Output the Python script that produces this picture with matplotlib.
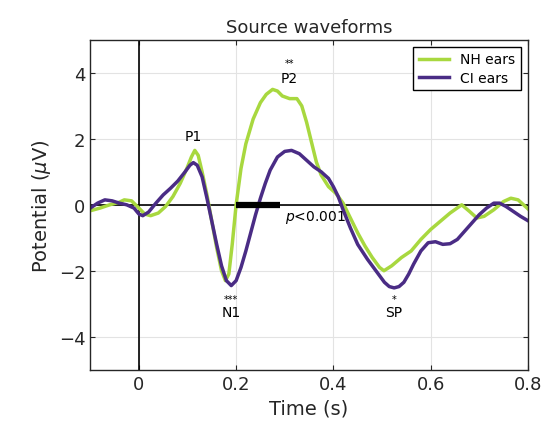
import matplotlib.pyplot as plt

# time points (s) and waveforms (uV)
t_nh = [-0.1, -0.08, -0.06, -0.04, -0.03, -0.015, 0.0, 0.012, 0.024, 0.04, 0.055, 0.07, 0.085,
        0.1, 0.108, 0.115, 0.122, 0.13, 0.14, 0.15, 0.16, 0.17, 0.178, 0.185, 0.192, 0.2,
        0.21, 0.22, 0.235, 0.25, 0.262, 0.275, 0.285, 0.295, 0.31, 0.325, 0.335, 0.345,
        0.355, 0.365, 0.375, 0.39, 0.405, 0.42, 0.435, 0.45, 0.465, 0.48, 0.495, 0.504,
        0.52, 0.54, 0.56, 0.58, 0.6, 0.62, 0.64, 0.664, 0.68, 0.695, 0.71, 0.73, 0.75,
        0.765, 0.78, 0.8]
v_nh = [-0.18, -0.1, 0.0, 0.08, 0.15, 0.12, -0.1, -0.28, -0.33, -0.25, -0.05, 0.25, 0.65,
        1.15, 1.45, 1.65, 1.5, 1.0, 0.3, -0.5, -1.3, -2.0, -2.3, -2.1, -1.2, 0.0,
        1.1, 1.85, 2.6, 3.1, 3.35, 3.5, 3.45, 3.3, 3.22, 3.22, 3.0, 2.5,
        1.9, 1.3, 0.9, 0.55, 0.35, 0.05, -0.4, -0.85, -1.25, -1.6, -1.9, -2.0,
        -1.85, -1.6, -1.4, -1.05, -0.75, -0.5, -0.25, 0.0, -0.2, -0.4, -0.35, -0.15, 0.1,
        0.2, 0.15, -0.12]

t_ci = [-0.1, -0.085, -0.07, -0.055, -0.04, -0.025, -0.01, 0.0, 0.008, 0.02, 0.035, 0.05,
        0.065, 0.08, 0.095, 0.105, 0.112, 0.12, 0.13, 0.14, 0.15, 0.16, 0.17, 0.18, 0.19,
        0.2, 0.21, 0.22, 0.23, 0.24, 0.25, 0.26, 0.27, 0.285, 0.3, 0.314, 0.33, 0.345,
        0.36, 0.375, 0.39, 0.4, 0.41, 0.42, 0.435, 0.45, 0.47, 0.49, 0.505, 0.515, 0.525,
        0.535, 0.545, 0.555, 0.565, 0.58, 0.595, 0.61, 0.625, 0.64, 0.655, 0.67, 0.685,
        0.7, 0.715, 0.73, 0.742, 0.755, 0.77, 0.785, 0.8]
v_ci = [-0.1, 0.05, 0.15, 0.12, 0.05, 0.0, -0.1, -0.28, -0.33, -0.22, 0.05, 0.3,
        0.5, 0.72, 1.0, 1.2, 1.28, 1.2, 0.85, 0.2, -0.5, -1.2, -1.85, -2.3, -2.45,
        -2.3, -1.9, -1.4, -0.85, -0.3, 0.2, 0.65, 1.05, 1.45, 1.62, 1.65, 1.55, 1.35,
        1.15, 1.0, 0.8, 0.55, 0.25, -0.15, -0.7, -1.2, -1.65, -2.05, -2.35, -2.48, -2.52,
        -2.48, -2.35, -2.1, -1.8, -1.4, -1.15, -1.12, -1.2, -1.18, -1.05, -0.8, -0.55,
        -0.3, -0.1, 0.05, 0.05, -0.05, -0.2, -0.35, -0.48]

sig_window = [0.2, 0.29]

fig, ax = plt.subplots(figsize=(5.47, 4.31), dpi=100)
plt.rcParams['font.family'] = 'DejaVu Sans'

ax.grid(True, color='#e3e3e3', linewidth=0.8)
ax.set_axisbelow(True)
ax.axhline(0, color='black', linewidth=1.2)
ax.axvline(0, color='black', linewidth=1.2)
ax.plot(t_nh, v_nh, color='#a8d83f', linewidth=2.5, label='NH ears', solid_joinstyle='round')
ax.plot(t_ci, v_ci, color='#4a2c85', linewidth=2.5, label='CI ears', solid_joinstyle='round')
ax.plot(sig_window, [0, 0], color='black', linewidth=4.5, solid_capstyle='butt')

ax.text(0.3, -0.35, r'$p$<0.001', fontsize=10, ha='left', va='center')
ax.text(0.112, 2.1, 'P1', fontsize=10, ha='center', va='center')
ax.text(0.31, 3.85, 'P2', fontsize=10, ha='center', va='center')
ax.text(0.31, 4.3, '**', fontsize=7, ha='center', va='center')
ax.text(0.19, -3.25, 'N1', fontsize=10, ha='center', va='center')
ax.text(0.19, -2.85, '***', fontsize=7, ha='center', va='center')
ax.text(0.525, -3.25, 'SP', fontsize=10, ha='center', va='center')
ax.text(0.525, -2.85, '*', fontsize=7, ha='center', va='center')

ax.set_xlim(-0.1, 0.8)
ax.set_ylim(-5, 5)
ax.set_xticks([0, 0.2, 0.4, 0.6, 0.8])
ax.set_xticklabels(['0', '0.2', '0.4', '0.6', '0.8'])
ax.set_yticks([-4, -2, 0, 2, 4])
ax.tick_params(direction='in', top=True, right=True, labelsize=13, colors='#262626',
               labelcolor='#262626')
for s in ax.spines.values():
    s.set_color('#262626')
    s.set_linewidth(1.0)

ax.set_xlabel('Time (s)', fontsize=14, color='#262626')
ax.set_ylabel(r'Potential ($\mu$V)', fontsize=14, color='#262626')
ax.set_title('Source waveforms', fontsize=13, color='#262626')

leg = ax.legend(loc='upper right', fontsize=10, fancybox=False, framealpha=1,
                handlelength=2.2, borderpad=0.4, labelspacing=0.3)
leg.get_frame().set_edgecolor('black')
leg.get_frame().set_linewidth(1.0)

plt.subplots_adjust(left=0.165, right=0.965, top=0.905, bottom=0.14)
plt.savefig('out.png', dpi=100)
